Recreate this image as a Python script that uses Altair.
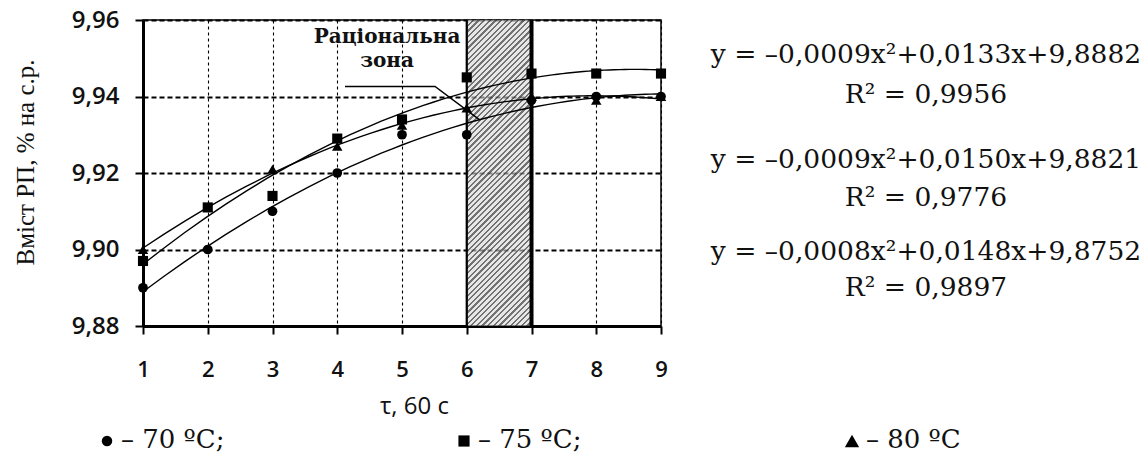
import altair as alt
import pandas as pd

# ---- data ----
tau = [1, 2, 3, 4, 5, 6, 7, 8, 9]
t70 = [9.890, 9.900, 9.910, 9.920, 9.930, 9.930, 9.939, 9.940, 9.940]
t75 = [9.897, 9.911, 9.914, 9.929, 9.934, 9.945, 9.946, 9.946, 9.946]
t80 = [9.900, 9.911, 9.921, 9.927, 9.9325, 9.937, 9.940, 9.939, 9.940]
series_names = ["70", "75", "80"]
series_shapes = ["circle", "square", "triangle-up"]
series_sizes = [95, 110, 190]

zone_start, zone_end = 6, 7
zone_label = ["Раціональна", "зона"]
zone_label_x = [4.77, 4.77]
zone_label_y = [9.9555, 9.9493]
leader_x = [4.12, 5.51, 6.20]
leader_y = [9.9426, 9.9426, 9.9339]

equations = [
    "y = –0,0009x²+0,0133x+9,8882",
    "R² = 0,9956",
    "y = –0,0009x²+0,0150x+9,8821",
    "R² = 0,9776",
    "y = –0,0008x²+0,0148x+9,8752",
    "R² = 0,9897",
]
legend_labels = ["– 70 ºС;", "– 75 ºС;", "– 80 ºС"]

# ---- tables ----
rows = []
for name, vals in zip(series_names, [t70, t75, t80]):
    for x, y in zip(tau, vals):
        rows.append({"x": x, "y": y, "series": name})
df = pd.DataFrame(rows)

W, H = 518, 306
X_DOM = [1, 9]
Y_DOM = [9.88, 9.96]

xs = alt.Scale(domain=X_DOM, nice=False, zero=False)
ys = alt.Scale(domain=Y_DOM, nice=False, zero=False)

x_axis = alt.Axis(
    values=tau, format="d", grid=True, gridDash=[3, 3], gridColor="black", gridWidth=1.1,
    domainColor="black", domainWidth=3, tickColor="black", tickWidth=2, tickSize=8,
    labelFont="Open Sans", labelFontWeight=600, labelFontSize=22, labelColor="#111",
    labelPadding=25, labelFlush=False,
    title="τ, 60 с", titleFont="Open Sans", titleFontWeight="normal",
    titleFontSize=24, titleColor="#111", titleX=271, titleY=80, titleBaseline="middle",
)
y_axis = alt.Axis(
    values=[9.88, 9.90, 9.92, 9.94, 9.96], grid=True, gridDash=[5, 3], gridColor="black",
    gridWidth=1.8, domainColor="black", domainWidth=3, tickColor="black", tickWidth=2,
    tickSize=8, labelFont="Open Sans", labelFontWeight=600, labelFontSize=24,
    labelColor="#111", labelPadding=16, labelFlush=False,
    labelExpr="replace(format(datum.value, '.2f'), '.', ',')",
    title="Вміст РП, % на с.р.", titleFont="Liberation Serif", titleFontWeight="normal",
    titleFontSize=25, titleColor="#111", titleX=-118, titleY=142, titleAngle=-90,
    titleAlign="center", titleBaseline="middle",
)

# hatch fill as a striped linear gradient (style only)
stops = []
n = 66
for i in range(n):
    a = i / n
    b = (i + 0.4) / n
    c = (i + 1) / n
    stops.append(alt.GradientStop(color="rgba(90,90,90,0.85)", offset=a))
    stops.append(alt.GradientStop(color="rgba(90,90,90,0.85)", offset=b))
    stops.append(alt.GradientStop(color="rgba(215,215,215,0.6)", offset=b))
    stops.append(alt.GradientStop(color="rgba(215,215,215,0.6)", offset=c))
ratio = (W / 8) / H
k = (ratio + 1) / (ratio * ratio + 1)
hatch = alt.Gradient(gradient="linear", stops=stops, x1=0, y1=0, x2=ratio * k, y2=k)

zone_df = pd.DataFrame({"x": [zone_start], "x2": [zone_end], "y": [Y_DOM[0]], "y2": [Y_DOM[1]]})
zone = alt.Chart(zone_df).mark_rect(fill=hatch, stroke=None).encode(
    x=alt.X("x:Q", scale=xs, axis=x_axis),
    x2="x2:Q",
    y=alt.Y("y:Q", scale=ys, axis=y_axis),
    y2="y2:Q",
)

rule_df = pd.DataFrame({"x": [zone_start, zone_end], "w": [2.2, 4.0]})
rules = alt.Chart(rule_df).mark_rule(color="black").encode(
    x=alt.X("x:Q", scale=xs),
    strokeWidth=alt.StrokeWidth("w:Q", scale=None, legend=None),
)

base = alt.Chart(df)
trend = base.transform_regression(
    "x", "y", method="poly", order=2, groupby=["series"], extent=X_DOM
).mark_line(color="black", strokeWidth=1.4).encode(
    x=alt.X("x:Q", scale=xs),
    y=alt.Y("y:Q", scale=ys),
    detail="series:N",
)

points = base.mark_point(filled=True, color="black", opacity=1).encode(
    x=alt.X("x:Q", scale=xs),
    y=alt.Y("y:Q", scale=ys),
    shape=alt.Shape("series:N", scale=alt.Scale(domain=series_names, range=series_shapes), legend=None),
    size=alt.Size("series:N", scale=alt.Scale(domain=series_names, range=series_sizes), legend=None),
)

leader_df = pd.DataFrame({"x": leader_x, "y": leader_y, "o": [0, 1, 2]})
leader = alt.Chart(leader_df).mark_line(color="black", strokeWidth=1.4).encode(
    x=alt.X("x:Q", scale=xs), y=alt.Y("y:Q", scale=ys), order="o:Q"
)

label_df = pd.DataFrame({"x": zone_label_x, "y": zone_label_y, "t": zone_label})
labels = alt.Chart(label_df).mark_text(
    font="DejaVu Serif", fontWeight="bold", fontSize=20, color="#111", baseline="middle"
).encode(x=alt.X("x:Q", scale=xs), y=alt.Y("y:Q", scale=ys), text="t:N")

# equations to the right of the plot (pixel placement)
eq_y = [55, 95, 160, 198, 252, 288]
eq_layers = []
for t, yy in zip(equations, eq_y):
    eq_layers.append(
        alt.Chart(pd.DataFrame({"t": [t]})).mark_text(
            font="DejaVu Serif", fontSize=26.5, color="#111", align="center", baseline="middle"
        ).encode(x=alt.value(926 - 143), y=alt.value(yy - 20), text="t:N")
    )

# custom legend below the plot
leg_sym_x = [107, 464, 852]
leg_txt_x = [121, 478, 866]
leg_layers = []
for shp, sz, sx, tx, lab in zip(series_shapes, series_sizes, leg_sym_x, leg_txt_x, legend_labels):
    leg_layers.append(
        alt.Chart(pd.DataFrame({"s": [shp]})).mark_point(
            filled=True, color="black", opacity=1, size=sz + 15, shape=shp
        ).encode(x=alt.value(sx - 143), y=alt.value(441 - 20))
    )
    leg_layers.append(
        alt.Chart(pd.DataFrame({"t": [lab]})).mark_text(
            font="DejaVu Serif", fontSize=26, color="#111", align="left", baseline="middle"
        ).encode(x=alt.value(tx - 143), y=alt.value(440 - 20), text="t:N")
    )

chart = alt.layer(
    zone, rules, trend, points, leader, labels, *eq_layers, *leg_layers
).properties(
    width=W, height=H,
    autosize=alt.AutoSizeParams(type="none"),
    padding={"left": 143, "top": 20, "right": 1147 - 143 - W, "bottom": 455 - 20 - H},
    background="white",
).configure_view(stroke="black", strokeWidth=1.5)

chart.save("out.html", embed_options={"renderer": "svg", "actions": False})
